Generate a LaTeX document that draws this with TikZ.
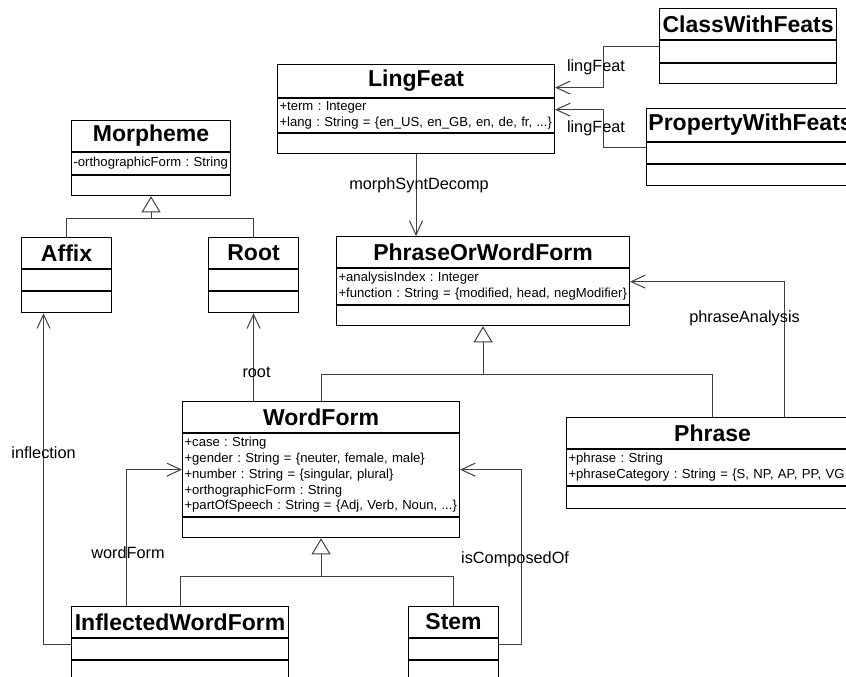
\documentclass[tikz,border=0pt]{standalone}
\usepackage{fontspec}
\setmainfont{Liberation Sans}
\usetikzlibrary{arrows.meta}
\frenchspacing
\newcommand{\clsfont}{\fontsize{23}{27}\selectfont\bfseries}
\newcommand{\attfont}{\fontsize{13.1}{15.8}\selectfont}
\newcommand{\lblfont}{\fontsize{16.3}{19}\selectfont}
\newcommand{\attrlines}[1]{\begin{tabular}{@{}l@{}}#1\end{tabular}}
\tikzset{
  ctitle/.style={draw=cbox, line width=1.1pt, fill=white, anchor=north west, inner sep=0pt, font=\clsfont},
  cattr/.style={draw=cbox, line width=1.1pt, fill=white, anchor=north west, inner xsep=2pt, inner ysep=0pt, align=left, font=\attfont},
  assoc/.style={draw=cline, line width=1pt, -{Straight Barb[length=14pt, width=13pt]}},
  gen/.style={draw=cline, line width=1pt, -{Triangle[open, length=16pt, width=19pt]}},
  genbar/.style={draw=cline, line width=1pt},
  lbl/.style={font=\lblfont, text=black, inner sep=0pt},
}
\begin{document}
\begin{tikzpicture}[x=1pt, y=-1pt]
\definecolor{cbox}{rgb}{0.0,0.0,0.0}
\definecolor{cline}{rgb}{0.25,0.25,0.25}
\definecolor{cbg}{rgb}{1.0,1.0,1.0}
%
\useasboundingbox (0,0) rectangle (846,677);
\fill[cbg] (0,0) rectangle (846,677);
\clip (0,0) rectangle (846,677);
%
\node[ctitle, minimum width=277pt, minimum height=33pt] (lingfeat) at (277,64) {LingFeat};
\node[cattr, text width=273pt, minimum height=34pt] (lingfeat-a) at (lingfeat.south west) {\attrlines{+term : Integer\\+lang : String = \{en\_US, en\_GB, en, de, fr, ...\}}};
\node[cattr, text width=273pt, minimum height=20pt] (lingfeat-o) at (lingfeat-a.south west) {};
\node[ctitle, minimum width=177pt, minimum height=31pt] (classwf) at (659,8) {ClassWithFeats};
\node[cattr, text width=173pt, minimum height=22pt] (classwf-a) at (classwf.south west) {};
\node[cattr, text width=173pt, minimum height=20pt] (classwf-o) at (classwf-a.south west) {};
\node[ctitle, minimum width=208pt, minimum height=33pt] (propwf) at (646,108) {PropertyWithFeats};
\node[cattr, text width=204pt, minimum height=21pt] (propwf-a) at (propwf.south west) {};
\node[cattr, text width=204pt, minimum height=21pt] (propwf-o) at (propwf-a.south west) {};
\node[ctitle, minimum width=159pt, minimum height=31pt] (morpheme) at (71,120) {Morpheme};
\node[cattr, text width=155pt, minimum height=22pt] (morpheme-a) at (morpheme.south west) {\attrlines{-orthographicForm : String}};
\node[cattr, text width=155pt, minimum height=20pt] (morpheme-o) at (morpheme-a.south west) {};
\node[ctitle, minimum width=90pt, minimum height=31pt] (affix) at (21,237) {Affix};
\node[cattr, text width=86pt, minimum height=21pt] (affix-a) at (affix.south west) {};
\node[cattr, text width=86pt, minimum height=21pt] (affix-o) at (affix-a.south west) {};
\node[ctitle, minimum width=90pt, minimum height=31pt] (root) at (208,237) {Root};
\node[cattr, text width=86pt, minimum height=21pt] (root-a) at (root.south west) {};
\node[cattr, text width=86pt, minimum height=21pt] (root-o) at (root-a.south west) {};
\node[ctitle, minimum width=293pt, minimum height=31pt] (pwform) at (336,236) {PhraseOrWordForm};
\node[cattr, text width=289pt, minimum height=36pt] (pwform-a) at (pwform.south west) {\attrlines{+analysisIndex : Integer\\+function : String = \{modified, head, negModifier\}}};
\node[cattr, text width=289pt, minimum height=20pt] (pwform-o) at (pwform-a.south west) {};
\node[ctitle, minimum width=277pt, minimum height=31pt] (wform) at (182,401) {WordForm};
\node[cattr, text width=273pt, minimum height=83pt] (wform-a) at (wform.south west) {\attrlines{+case : String\\+gender : String = \{neuter, female, male\}\\+number : String = \{singular, plural\}\\+orthographicForm : String\\+partOfSpeech : String = \{Adj, Verb, Noun, ...\}}};
\node[cattr, text width=273pt, minimum height=20pt] (wform-o) at (wform-a.south west) {};
\node[ctitle, minimum width=292pt, minimum height=31pt] (phrase) at (566,417) {Phrase};
\node[cattr, text width=288pt, minimum height=36pt] (phrase-a) at (phrase.south west) {\attrlines{+phrase : String\\+phraseCategory : String = \{S, NP, AP, PP, VG}};
\node[cattr, text width=288pt, minimum height=22pt] (phrase-o) at (phrase-a.south west) {};
\node[ctitle, minimum width=217pt, minimum height=31pt] (iwform) at (71,606) {InflectedWordForm};
\node[cattr, text width=213pt, minimum height=21pt] (iwform-a) at (iwform.south west) {};
\node[cattr, text width=213pt, minimum height=30pt] (iwform-o) at (iwform-a.south west) {};
\node[ctitle, minimum width=90pt, minimum height=31pt] (stem) at (408,606) {Stem};
\node[cattr, text width=86pt, minimum height=21pt] (stem-a) at (stem.south west) {};
\node[cattr, text width=86pt, minimum height=30pt] (stem-o) at (stem-a.south west) {};
%
\draw[assoc] ([yshift=5pt]classwf-a.west) -- ++(-56,0) |- node[lbl, pos=0.25, xshift=-7pt]{lingFeat} ([yshift=-6.5pt]lingfeat.east);
\draw[assoc] ([yshift=5.5pt]propwf-a.west) -- ++(-43,0) |- node[lbl, pos=0.25, xshift=-7pt]{lingFeat} ([yshift=6pt]lingfeat-a.east);
\draw[assoc] (lingfeat-o.south) -- node[lbl, pos=0.38, xshift=3pt]{morphSyntDecomp} (lingfeat-o.south |- pwform.north);
\draw[assoc] ([xshift=72pt]phrase.north) |- node[lbl, pos=0.365, xshift=-40pt]{phraseAnalysis} ([yshift=5pt]pwform-a.east);
\draw[assoc] (wform.north -| root-o.south) -- node[lbl, pos=0.33, xshift=3pt]{root} (root-o.south);
\draw[assoc] ([yshift=4.5pt]iwform-a.west) -| node[lbl, pos=0.79]{inflection} ([xshift=-23pt]affix-o.south);
\draw[assoc] ([xshift=-53.5pt]iwform.north) |- node[lbl, pos=0.196, xshift=1.5pt]{wordForm} ([yshift=5.5pt]wform-a.west);
\draw[assoc] ([yshift=4.5pt]stem-a.east) -- ++(22,0) |- node[lbl, pos=0.243, xshift=-6pt]{isComposedOf} ([yshift=5.5pt]wform-a.east);
%
\draw[genbar] (affix.north) |- ([yshift=-22pt]morpheme-o.south) -| (root.north);
\draw[gen] ([yshift=-22pt]morpheme-o.south) -- (morpheme-o.south);
\draw[genbar] (wform.north) |- ([yshift=-48pt]pwform-o.south) -| (phrase.north);
\draw[gen] ([yshift=-48pt]pwform-o.south) -- (pwform-o.south);
\draw[genbar] (iwform.north) |- ([yshift=-38pt]wform-o.south) -| (stem.north);
\draw[gen] ([yshift=-38pt]wform-o.south) -- (wform-o.south);
%
\end{tikzpicture}
\end{document}
